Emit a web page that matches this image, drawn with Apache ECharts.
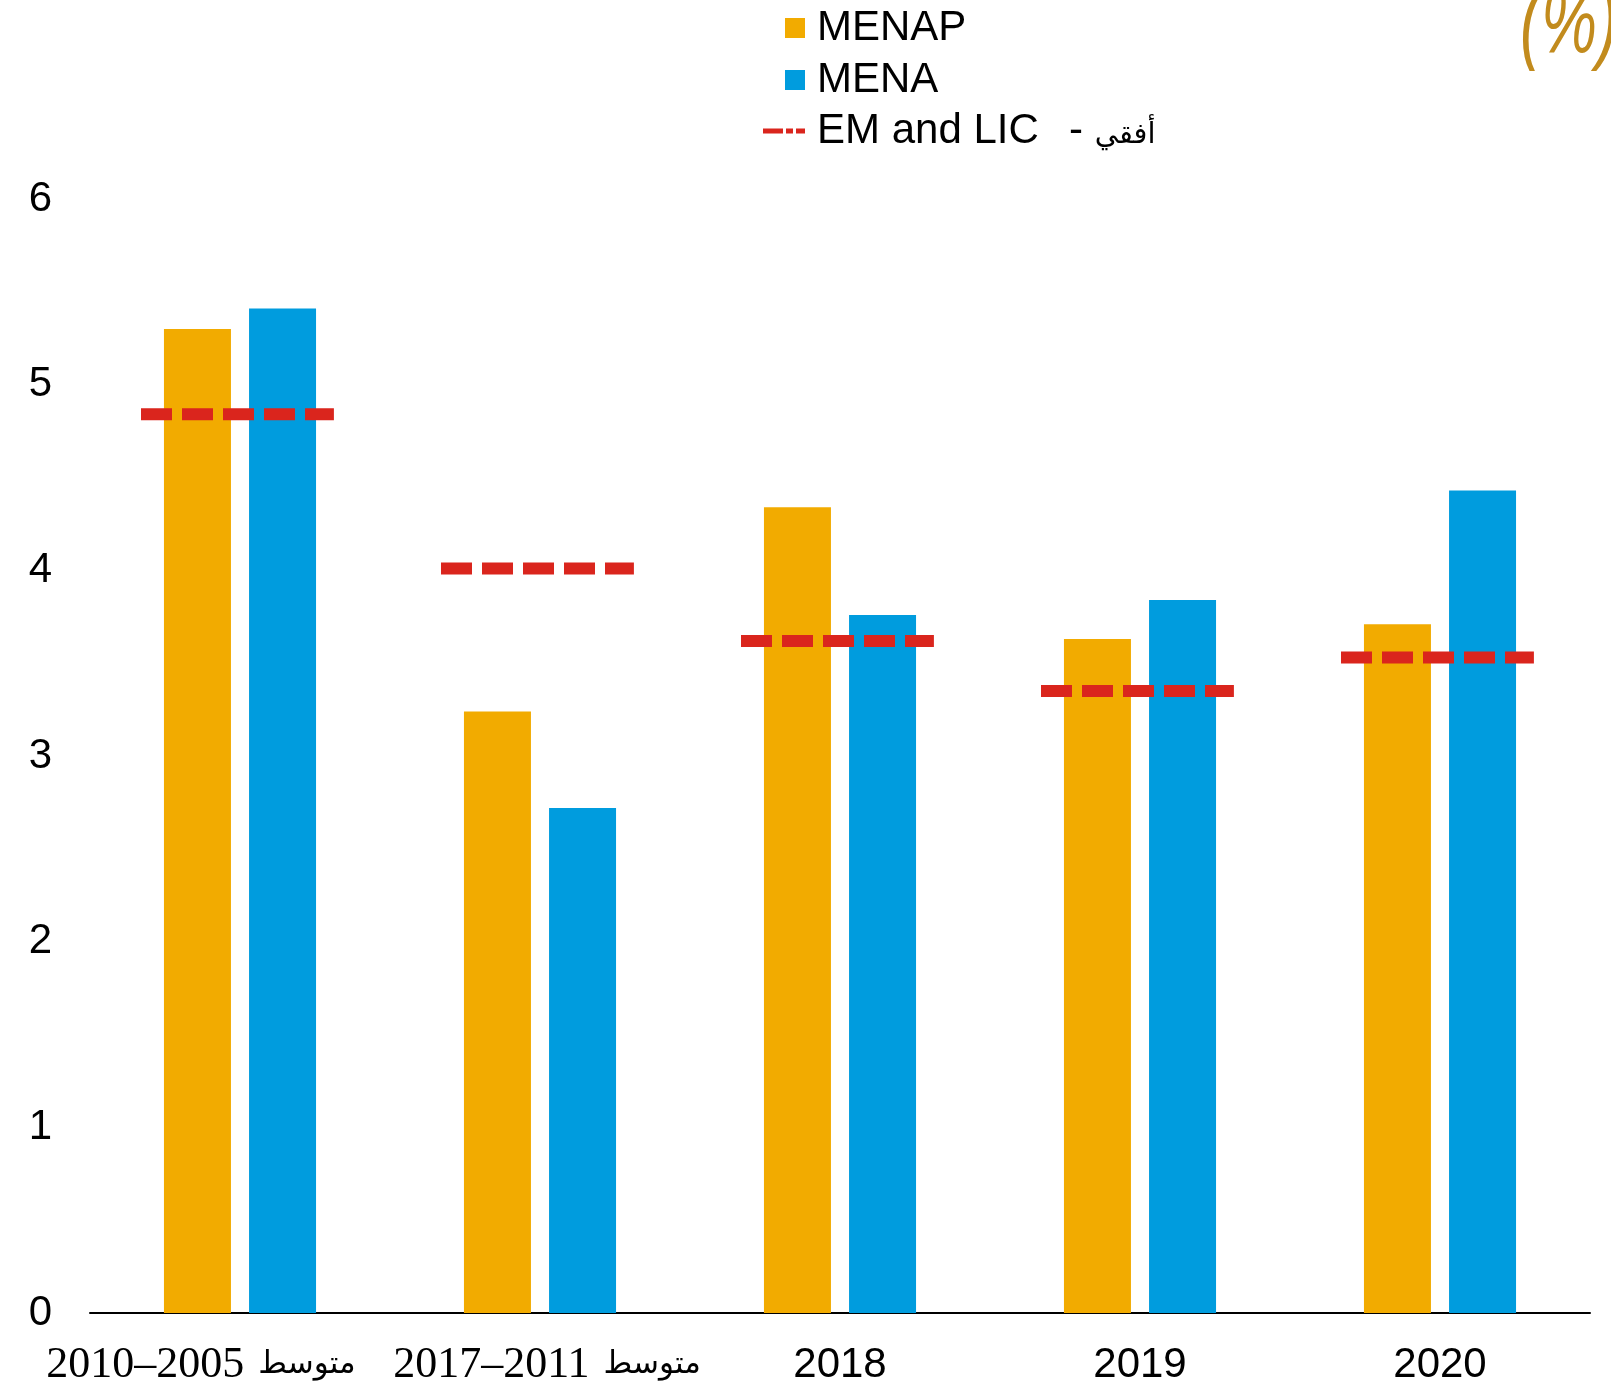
<!DOCTYPE html>
<html>
<head>
<meta charset="utf-8">
<script src="https://cdn.jsdelivr.net/npm/echarts@6/dist/echarts.min.js"></script>
<style>
  html, body { margin: 0; padding: 0; background: #fff; }
  #chart { width: 1611px; height: 1387px; }
</style>
</head>
<body>
<div id="chart"></div>
<script>
  // categories and values
  var categories = ['متوسط 2005–2010', 'متوسط 2011–2017', '2018', '2019', '2020'];
  var menap = [5.30, 3.24, 4.34, 3.63, 3.71];
  var mena = [5.41, 2.72, 3.76, 3.84, 4.43];
  var emLic = [4.84, 4.01, 3.62, 3.35, 3.53];
  var yTicks = [0, 1, 2, 3, 4, 5, 6];

  var EM_NAME = 'EM and LIC  - أفقي';

  var chart = echarts.init(document.getElementById('chart'));

  var legendText = {
    fontSize: 42,
    fontFamily: 'Liberation Sans, Arial',
    color: '#000',
    lineHeight: 44,
    padding: [0, 0, 0, 7],
    rich: {
      e: { fontSize: 42, fontFamily: 'Liberation Sans, Arial', color: '#000', lineHeight: 44 },
      d: { fontSize: 42, fontFamily: 'Liberation Sans, Arial', color: '#000', lineHeight: 44, padding: [0, 0, 0, 7] },
      ar: { fontSize: 29, fontFamily: 'DejaVu Sans', color: '#000', lineHeight: 44, padding: [8, 0, 0, 0] }
    }
  };

  // split "word yyyy–yyyy" into a number run and an arabic run (drawn right to left)
  function splitLabel(v) {
    var m = v.match(/^(\S+)\s+(\d+)–(\d+)$/);
    if (!m) return null;
    return { word: m[1], range: m[3] + '–' + m[2] };
  }

  var serif = 'Liberation Serif, Times New Roman, DejaVu Serif';

  var option = {
    animation: false,
    backgroundColor: '#fff',
    legend: [
      {
        data: ['MENAP', 'MENA'],
        orient: 'vertical',
        left: 780,
        top: 1,
        itemWidth: 20,
        itemHeight: 20,
        itemGap: 8,
        icon: 'rect',
        selectedMode: false,
        textStyle: legendText
      },
      {
        data: [{
          name: EM_NAME,
          icon: 'path://M0,0H20V5H0Z M23,0H30V5H23Z M33,0H42V5H33Z',
          itemStyle: { color: '#DA251D' }
        }],
        formatter: function (name) {
          var i = name.indexOf('- ');
          return '{e|' + name.slice(0, i) + '}{d|- }{ar|' + name.slice(i + 2) + '}';
        },
        orient: 'vertical',
        left: 758,
        top: 104,
        itemWidth: 42,
        itemHeight: 5,
        selectedMode: false,
        textStyle: legendText
      }
    ],
    grid: {
      left: 90,
      right: 21,
      top: 199,
      bottom: 74,
      containLabel: false
    },
    xAxis: {
      type: 'category',
      data: categories,
      axisLine: { show: true, lineStyle: { color: '#000', width: 2 } },
      axisTick: { show: false },
      axisLabel: {
        interval: 0,
        margin: 29,
        formatter: function (v, i) {
          var p = splitLabel(v);
          if (!p) return '{y|' + v + '}';
          if (i === 0) return '{n0|' + p.range + '}{ar0|' + p.word + '}';
          return '{n1|' + p.range + '}{ar1|' + p.word + '}';
        },
        rich: {
          n0: { fontFamily: serif, fontSize: 44, color: '#000', lineHeight: 46 },
          ar0: { fontFamily: 'DejaVu Sans', fontSize: 31, color: '#000', lineHeight: 46, padding: [0, 78, 0, 14] },
          n1: { fontFamily: serif, fontSize: 44, color: '#000', lineHeight: 46, padding: [0, 0, 0, 14] },
          ar1: { fontFamily: 'DejaVu Sans', fontSize: 31, color: '#000', lineHeight: 46, padding: [0, 0, 0, 14] },
          y: { fontFamily: 'Liberation Sans, Arial', fontSize: 42, color: '#000', lineHeight: 46 }
        }
      }
    },
    yAxis: {
      type: 'value',
      min: yTicks[0],
      max: yTicks[yTicks.length - 1],
      interval: 1,
      axisLine: { show: false },
      axisTick: { show: false },
      splitLine: { show: false },
      axisLabel: {
        margin: 38,
        fontSize: 42,
        fontFamily: 'Liberation Sans, Arial',
        color: '#000'
      }
    },
    series: [
      {
        name: 'MENAP',
        type: 'bar',
        data: menap,
        barWidth: 67,
        barGap: '27%',
        itemStyle: { color: '#F2AB00' }
      },
      {
        name: 'MENA',
        type: 'bar',
        data: mena,
        barWidth: 67,
        barGap: '27%',
        itemStyle: { color: '#009CDE' }
      },
      {
        name: EM_NAME,
        type: 'custom',
        z: 10,
        itemStyle: { color: '#DA251D' },
        encode: { x: 0, y: 1 },
        data: emLic.map(function (v, i) { return [i, v]; }),
        renderItem: function (params, api) {
          var c = api.coord([api.value(0), api.value(1)]);
          var bw = api.size([1, 0])[0];
          return {
            type: 'line',
            shape: { x1: c[0] - 0.33 * bw, y1: c[1], x2: c[0] + 0.313 * bw, y2: c[1] },
            style: { stroke: '#DA251D', lineWidth: 12, lineDash: [31, 10], lineCap: 'butt' }
          };
        }
      }
    ],
    graphic: [
      {
        type: 'text',
        x: 1520,
        y: -18,
        scaleX: 0.7,
        style: {
          text: '(%)',
          font: 'italic 90px Liberation Sans, Arial',
          fill: '#C28B1D',
          verticalAlign: 'top'
        }
      }
    ]
  };

  chart.setOption(option);
  window.addEventListener('resize', function () { chart.resize(); });
</script>
</body>
</html>
